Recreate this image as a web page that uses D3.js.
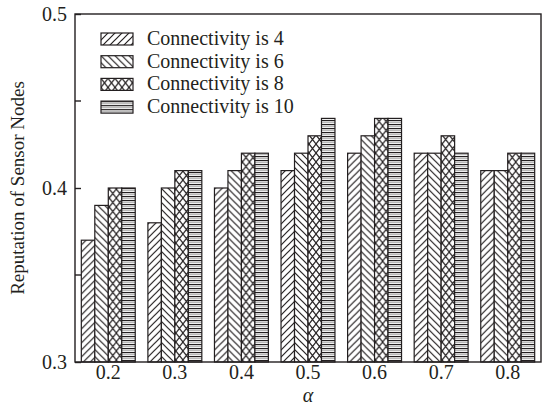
<!DOCTYPE html>
<html>
<head>
<meta charset="utf-8">
<script src="https://cdn.jsdelivr.net/npm/d3@7"></script>
<style>
	body { margin: 0; background: #fff; }
</style>
</head>
<body>
<script>
const alphas = ['0.2', '0.3', '0.4', '0.5', '0.6', '0.7', '0.8'];
const seriesNames = ['Connectivity is 4', 'Connectivity is 6', 'Connectivity is 8', 'Connectivity is 10'];
const conn4  = [0.37, 0.38, 0.40, 0.41, 0.42, 0.42, 0.41];
const conn6  = [0.39, 0.40, 0.41, 0.42, 0.43, 0.42, 0.41];
const conn8  = [0.40, 0.41, 0.42, 0.43, 0.44, 0.43, 0.42];
const conn10 = [0.40, 0.41, 0.42, 0.44, 0.44, 0.42, 0.42];
const yTicks = [0.3, 0.4, 0.5];
const yMinor = [0.35, 0.45];

const series = [conn4, conn6, conn8, conn10];

const width = 554, height = 410;
const margin = { top: 14, right: 13, bottom: 48, left: 75 };
const ink = '#231f20';
const serif = 'Liberation Serif';

const svg = d3.select('body').append('svg')
	.attr('width', width)
	.attr('height', height)
	.style('font-family', serif);

// hatch patterns
const defs = svg.append('defs');

let p = defs.append('pattern').attr('id', 'p0')
	.attr('patternUnits', 'userSpaceOnUse').attr('width', 7).attr('height', 7);
p.append('rect').attr('width', 7).attr('height', 7).attr('fill', '#fff');
p.append('path').attr('d', 'M0,7 L7,0 M-1,1 L1,-1 M6,8 L8,6')
	.attr('stroke', ink).attr('stroke-width', 1.2);

p = defs.append('pattern').attr('id', 'p1')
	.attr('patternUnits', 'userSpaceOnUse').attr('width', 7).attr('height', 7);
p.append('rect').attr('width', 7).attr('height', 7).attr('fill', '#fff');
p.append('path').attr('d', 'M0,0 L7,7 M-1,6 L1,8 M6,-1 L8,1')
	.attr('stroke', ink).attr('stroke-width', 1.2);

p = defs.append('pattern').attr('id', 'p2')
	.attr('patternUnits', 'userSpaceOnUse').attr('width', 7).attr('height', 9);
p.append('rect').attr('width', 7).attr('height', 9).attr('fill', '#fff');
p.append('path').attr('d', 'M0,0 L7,9 M7,0 L0,9')
	.attr('stroke', ink).attr('stroke-width', 1.2);

p = defs.append('pattern').attr('id', 'p3')
	.attr('patternUnits', 'userSpaceOnUse').attr('width', 4).attr('height', 4);
p.append('rect').attr('width', 4).attr('height', 4).attr('fill', '#fff');
p.append('rect').attr('y', 2).attr('width', 4).attr('height', 1.2).attr('fill', '#b8b8b8');
p.append('rect').attr('y', 0).attr('width', 4).attr('height', 1.2).attr('fill', ink);

const x0 = d3.scaleBand()
	.domain(alphas)
	.range([margin.left, width - margin.right])
	.paddingInner(0.19)
	.paddingOuter(0.095);

const x1 = d3.scaleBand()
	.domain(d3.range(series.length))
	.range([0, x0.bandwidth()]);

const y = d3.scaleLinear()
	.domain([0.3, 0.5])
	.range([height - margin.bottom, margin.top]);

// bars
const groups = svg.append('g').selectAll('g')
	.data(alphas)
	.join('g')
	.attr('transform', d => `translate(${x0(d)},0)`);

groups.selectAll('rect')
	.data((d, i) => series.map((s, k) => ({ k, v: s[i] })))
	.join('rect')
	.attr('x', d => x1(d.k))
	.attr('y', d => y(d.v))
	.attr('width', x1.bandwidth())
	.attr('height', d => y(0.3) - y(d.v))
	.attr('fill', d => `url(#p${d.k})`)
	.attr('stroke', ink)
	.attr('stroke-width', 1.2);

// frame
svg.append('rect')
	.attr('x', margin.left)
	.attr('y', margin.top)
	.attr('width', width - margin.left - margin.right)
	.attr('height', height - margin.top - margin.bottom)
	.attr('fill', 'none')
	.attr('stroke', ink)
	.attr('stroke-width', 1.4);

// y axis, ticks pointing in
const yAxis = svg.append('g')
	.attr('transform', `translate(${margin.left},0)`)
	.call(d3.axisLeft(y).tickValues(yTicks).tickFormat(d3.format('.1f')).tickSize(-6).tickPadding(8));
yAxis.attr('font-family', null).attr('font-size', 20);
yAxis.select('.domain').remove();
yAxis.selectAll('line').attr('stroke', ink).attr('stroke-width', 1.4);
yAxis.selectAll('text').attr('fill', ink);

svg.append('g').selectAll('line')
	.data(yMinor)
	.join('line')
	.attr('x1', margin.left)
	.attr('x2', margin.left + 6)
	.attr('y1', d => y(d))
	.attr('y2', d => y(d))
	.attr('stroke', ink)
	.attr('stroke-width', 1.4);

// x axis labels
const xAxis = svg.append('g')
	.attr('transform', `translate(0,${height - margin.bottom})`)
	.call(d3.axisBottom(x0).tickSize(0).tickPadding(3));
xAxis.attr('font-family', null).attr('font-size', 20);
xAxis.select('.domain').remove();
xAxis.selectAll('text').attr('fill', ink);

// axis titles
svg.append('text')
	.attr('x', (margin.left + width - margin.right) / 2)
	.attr('y', 402)
	.attr('text-anchor', 'middle')
	.attr('font-size', 20)
	.attr('font-style', 'italic')
	.attr('fill', ink)
	.text('α');

svg.append('text')
	.attr('transform', `translate(24,${(margin.top + height - margin.bottom) / 2}) rotate(-90)`)
	.attr('text-anchor', 'middle')
	.attr('font-size', 19)
	.attr('fill', ink)
	.text('Reputation of Sensor Nodes');

// legend
const legend = svg.append('g').selectAll('g')
	.data(seriesNames)
	.join('g')
	.attr('transform', (d, i) => `translate(101,${33 + i * 22.7})`);

legend.append('rect')
	.attr('width', 32)
	.attr('height', 12)
	.attr('fill', (d, i) => `url(#p${i})`)
	.attr('stroke', ink)
	.attr('stroke-width', 1.2);

legend.append('text')
	.attr('x', 46)
	.attr('y', 12)
	.attr('font-size', 20)
	.attr('fill', ink)
	.text(d => d);
</script>
</body>
</html>
